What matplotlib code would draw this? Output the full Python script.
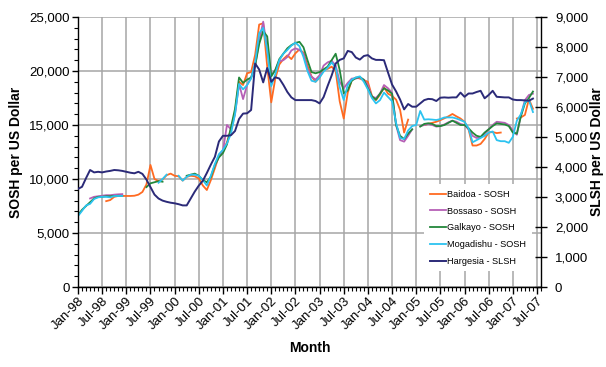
import numpy as np
import pandas as pd
import matplotlib
matplotlib.use('Agg')
import matplotlib.pyplot as plt
from matplotlib.ticker import MultipleLocator, FuncFormatter

plt.rcParams['font.family'] = ['Liberation Sans', 'DejaVu Sans']

nan = np.nan

# monthly series, Jan-98 .. Jun-07 (one row per year)
baidoa = [
    nan, nan, nan, nan, nan, nan, nan, 7950, 8050, 8350, 8430, 8430,
    8430, 8430, 8450, 8550, 8800, 9500, 11300, 10000, 9800, 9950, 10350, 10500,
    10300, 10250, 9850, 10200, 10300, 10250, 10050, 9400, 8980, 9900, 11000, 12150,
    12650, 13400, 14600, 16200, 19000, 18700, 19790, 19900, 21500, 24300, 24420, 20400,
    17100, 19300, 20600, 21100, 21450, 21100, 21640, 22000, 21700, 20500, 19500, 19000,
    19400, 20090, 20200, 20400, 20000, 17200, 15600, 18000, 19150, 19400, 19300, 19150,
    19000, 17700, 17300, 17800, 18500, 17900, 17700, 17350, 16400, 14300, 15500, nan,
    nan, nan, 15000, 15100, 15200, 15300, 15450, 15620, 15800, 16020, 15800, 15600,
    15300, 14600, 13100, 13100, 13250, 13700, 14300, 14350, 14250, 14300, nan, nan,
    nan, 15600, 15700, 15930, 17400, 16500,
]

bossaso = [
    nan, nan, nan, 8200, 8350, 8400, 8450, 8500, 8500, 8550, 8580, 8600,
    nan, nan, nan, nan, nan, nan, nan, nan, nan, nan, nan, nan,
    nan, nan, nan, nan, nan, nan, nan, nan, nan, nan, 11200, 12100,
    12600, 15000, 14600, 16000, 18800, 17400, 18700, 19400, 20500, 22800, 24570, 22000,
    19600, 20100, 20900, 21000, 21300, 21900, 22100, 21950, 21600, 20200, 19470, 19200,
    19600, 20500, 20800, 20950, 20500, 19000, 18400, 18900, 19300, 19300, 19400, 19200,
    18700, 17620, 17500, 17900, 18700, 18400, 18000, 15000, 13600, 13460, 14000, 14600,
    nan, 14900, 15000, 15100, 15000, 14850, 14900, 15050, 15250, 15400, 15300, 15100,
    15000, 14600, 14000, 13800, 13850, 14200, 14600, 15000, 15300, 15250, 15200, 15000,
    14500, 14100, 15900, 17300, 17780, 17900,
]

galkayo = [
    6650, 7150, 7500, 7850, 8200, 8350, 8350, 8400, 8400, 8430, 8450, 8430,
    nan, nan, nan, nan, nan, 9250, 9600, 9700, 9800, 9750, nan, nan,
    nan, nan, nan, 10300, 10400, 10500, 10300, 9900, 9700, 10200, 11300, 12000,
    12400, 13200, 14800, 16500, 19400, 18900, 19200, 19400, 20500, 22500, 23700, 23200,
    19500, 20090, 21100, 21600, 22100, 22400, 22600, 22700, 22200, 21000, 19900, 19790,
    19900, 20150, 20400, 21000, 21600, 20100, 17930, 18200, 19100, 19350, 19450, 19170,
    18400, 17650, 17350, 17900, 18400, 18200, 17900, 15000, 14000, 13700, 14200, 14600,
    nan, 14850, 15100, 15160, 15100, 14900, 14900, 15000, 15200, 15400, 15200, 15000,
    15000, 14700, 14300, 14000, 13900, 14300, 14600, 14900, 15150, 15100, 15050, 14900,
    14300, 14200, 15800, 17000, 17500, 18100,
]

mogadishu = [
    6570, 7050, 7550, 7700, 8150, 8300, 8350, 8350, 8300, 8420, 8430, 8430,
    nan, nan, nan, nan, nan, nan, nan, nan, 9650, 10000, 10400, nan,
    nan, 10300, 9850, 10200, 10400, 10400, 10300, 9900, 9400, 10300, 11400, 12300,
    12700, 13300, 14200, 16000, 18800, 18300, 18700, 19300, 20800, 23500, 24000, 21900,
    18600, 19700, 21000, 21600, 21950, 22350, 22620, 22300, 21300, 20000, 19100, 19000,
    19400, 19940, 20300, 20800, 20300, 18500, 17310, 18700, 19200, 19400, 19500, 19000,
    18300, 17500, 17000, 17300, 18000, 17600, 17200, 15200, 13800, 13700, 14500, 14900,
    15000, 16300, 15500, 15530, 15500, 15460, 15550, 15700, 15700, 15700, 15600, 15450,
    15300, 14700, 13400, 13600, 13800, 14000, 14300, 14400, 13600, 13500, 13500, 13350,
    13900, 15400, 16000, 17100, 17300, 16200,
]

hargesia = [
    3270, 3340, 3630, 3900, 3820, 3840, 3820, 3850, 3870, 3900, 3890, 3870,
    3840, 3810, 3790, 3840, 3770, 3580, 3330, 3080, 2950, 2880, 2840, 2810,
    2790, 2760, 2720, 2720, 2950, 3180, 3380, 3540, 3800, 4080, 4340, 4850,
    5040, 5040, 5060, 5200, 5600, 5780, 5790, 5900, 7450, 7250, 6820, 7300,
    6840, 6990, 6950, 6740, 6500, 6320, 6230, 6230, 6230, 6230, 6230, 6200,
    6120, 6330, 6700, 7050, 7450, 7570, 7620, 7870, 7830, 7650, 7580, 7700,
    7730, 7620, 7570, 7570, 7560, 7150, 6750, 6520, 6250, 5920, 6100, 6010,
    6010, 6120, 6230, 6270, 6260, 6200, 6310, 6320, 6310, 6320, 6320, 6480,
    6340, 6450, 6450, 6500, 6540, 6290, 6400, 6540, 6340, 6330, 6320, 6320,
    6250, 6230, 6230, 6220, 6210, 6280,
]

axis_months = pd.date_range('1998-01-01', '2007-08-01', freq='MS')
x = np.arange(len(hargesia))

sosh_series = [
    ('Baidoa - SOSH', baidoa, '#ff6a21'),
    ('Bossaso - SOSH', bossaso, '#b660b6'),
    ('Galkayo - SOSH', galkayo, '#23873a'),
    ('Mogadishu - SOSH', mogadishu, '#2cc3f0'),
]

fig = plt.figure(figsize=(6.06, 3.67), dpi=100)
ax = fig.add_axes([78 / 606, 1 - 287 / 367, 463 / 606, 270 / 367])
ax2 = ax.twinx()

grid_col = '#a6a6a6'
ax.set_axisbelow(True)
ax.grid(True, which='major', color=grid_col, lw=1.1)

handles = []
for name, vals, col in sosh_series:
    h, = ax.plot(x, np.array(vals, dtype=float), color=col, lw=1.3, label=name)
    handles.append(h)
h, = ax2.plot(x, np.array(hargesia, dtype=float), color='#2b2a78', lw=1.4,
              label='Hargesia - SLSH')
handles.append(h)

# x axis: months, labels every six months
ax.set_xlim(0, len(axis_months) - 1)
major = np.arange(0, len(axis_months), 6)
ax.set_xticks(major)
ax.set_xticks(np.arange(len(axis_months)), minor=True)
ax.set_xticklabels([axis_months[i].strftime('%b-%y') for i in major],
                   rotation=45, ha='right', va='top', rotation_mode='anchor',
                   fontsize=9.5)
ax.tick_params(axis='x', which='major', direction='out', length=5, width=1, pad=1)
ax.tick_params(axis='x', which='minor', direction='out', length=3, width=0.8)

# left axis
ax.set_ylim(0, 25000)
ax.yaxis.set_major_locator(MultipleLocator(5000))
ax.yaxis.set_minor_locator(MultipleLocator(1000))
ax.yaxis.set_major_formatter(FuncFormatter(lambda v, p: f'{v:,.0f}'))
ax.tick_params(axis='y', which='major', direction='out', length=4, width=1,
               labelsize=9.5, pad=2)
ax.tick_params(axis='y', which='minor', direction='out', length=3, width=0.8)

# right axis
ax2.set_ylim(0, 9000)
ax2.yaxis.set_major_locator(MultipleLocator(1000))
ax2.yaxis.set_major_formatter(FuncFormatter(lambda v, p: f'{v:,.0f}'))
ax2.tick_params(axis='y', which='major', direction='inout', length=8, width=1,
                labelsize=9.5, pad=6)

for s in ['top', 'right']:
    ax.spines[s].set_visible(False)
for s in ['top', 'left', 'bottom']:
    ax2.spines[s].set_visible(False)
for a in (ax, ax2):
    for s in a.spines.values():
        s.set_color('black')
        s.set_linewidth(1)

fig.text(16 / 606, 1 - 152 / 367, 'SOSH per US Dollar', rotation=90,
         ha='center', va='center', fontsize=10, fontweight='bold')
fig.text(597 / 606, 1 - 152 / 367, 'SLSH per US Dollar', rotation=90,
         ha='center', va='center', fontsize=10, fontweight='bold')
fig.text(310 / 606, 1 - 348 / 367, 'Month', ha='center', va='center',
         fontsize=10, fontweight='bold')

leg = ax2.legend(handles=handles, loc='center', bbox_to_anchor=(0.864, 0.219),
                 fontsize=6.6, frameon=True, fancybox=False, edgecolor='none',
                 facecolor='white', framealpha=1, handlelength=1.75,
                 handletextpad=0.2, labelspacing=0.85, borderpad=0.6)

fig.savefig('out.png', dpi=100)
